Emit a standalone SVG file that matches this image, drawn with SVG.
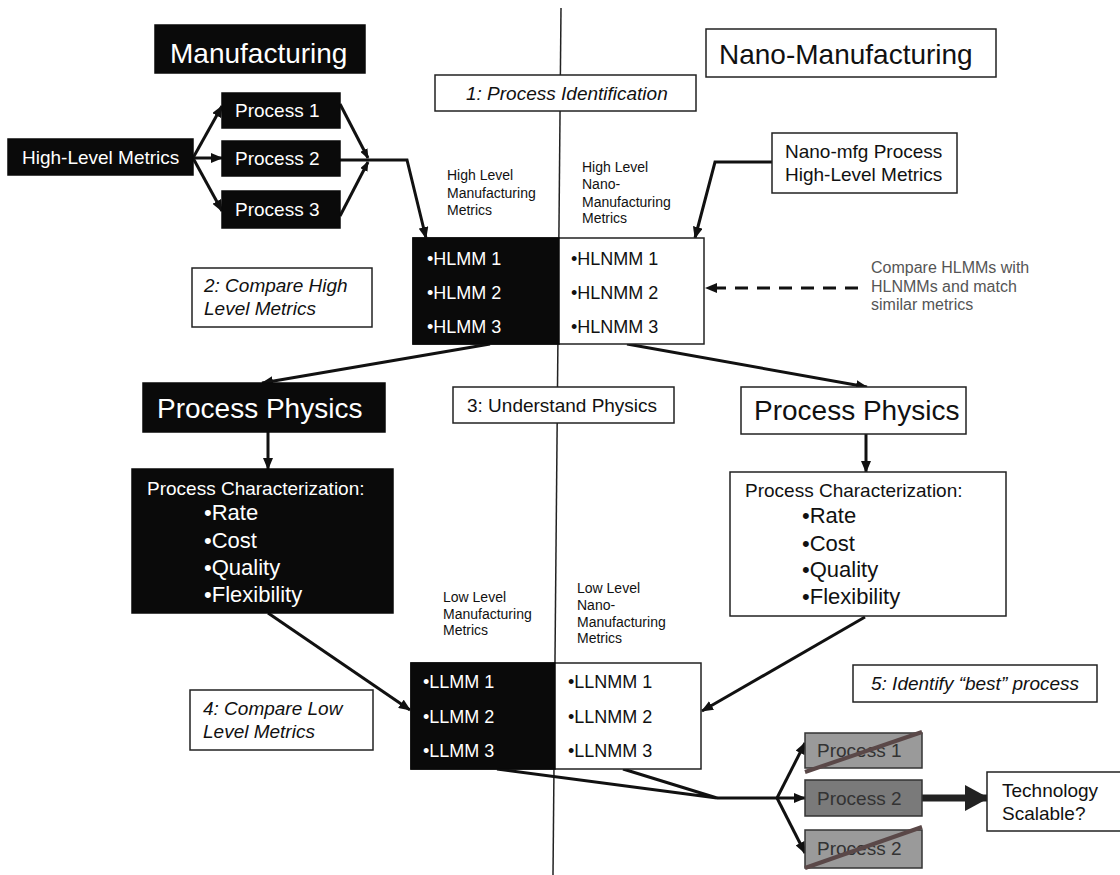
<svg xmlns="http://www.w3.org/2000/svg" width="1120" height="875" viewBox="0 0 1120 875">
<defs>
<style>
text{font-family:"Liberation Sans",Arial,Helvetica,sans-serif;}
.blk{fill:#0a0a0a;stroke:#0a0a0a;stroke-width:1.5;}
.wht{fill:#fff;stroke:#222;stroke-width:1.5;}
.tw{fill:#fff;}
.tb{fill:#111;}
.big{font-size:28px;}
.md{font-size:19px;}
.bul{font-size:18px;}
.lst{font-size:22px;}
.sm{font-size:14px;}
.it{font-style:italic;}
.ln{fill:none;stroke:#111;stroke-width:3;}
.gp{fill:#9a9a9a;stroke:#333;stroke-width:1.5;}
.gd{fill:#7a7a7a;stroke:#333;stroke-width:1.5;}
.tg{fill:#333;}
.x{stroke:#5a4848;stroke-width:4;}
</style>
<marker id="ah" markerWidth="12" markerHeight="10" refX="11" refY="5" orient="auto" markerUnits="userSpaceOnUse"><path d="M0,0 L12,5 L0,10 z" fill="#111"/></marker>
<marker id="ahs" markerWidth="10" markerHeight="8" refX="9" refY="4" orient="auto" markerUnits="userSpaceOnUse"><path d="M0,0 L10,4 L0,8 z" fill="#111"/></marker>
<marker id="ahb" markerWidth="24" markerHeight="26" refX="23" refY="13" orient="auto" markerUnits="userSpaceOnUse"><path d="M0,0 L24,13 L0,26 z" fill="#222"/></marker>
</defs>

<line x1="561" y1="8" x2="553" y2="875" stroke="#222" stroke-width="1.5"/>

<g id="connectors">
<path class="ln" d="M193,158 L222,106" marker-end="url(#ah)"/>
<path class="ln" d="M193,158 L222,158" marker-end="url(#ah)"/>
<path class="ln" d="M193,158 L222,211" marker-end="url(#ah)"/>
<path class="ln" d="M340,104 L368,158" marker-end="url(#ahs)"/>
<path class="ln" d="M340,216 L368,162" marker-end="url(#ahs)"/>
<path class="ln" d="M340,160 L407,160 L426,238" marker-end="url(#ah)"/>
<path class="ln" d="M772,162 L715,162 L695,238" marker-end="url(#ah)"/>
<path d="M858,288 L706,288" fill="none" stroke="#111" stroke-width="3" stroke-dasharray="13,9" marker-end="url(#ah)"/>
<path class="ln" d="M490,344 L262,383" marker-end="url(#ah)"/>
<path class="ln" d="M627,344 L867,387" marker-end="url(#ah)"/>
<path class="ln" d="M268,432 L268,469" marker-end="url(#ah)"/>
<path class="ln" d="M866,434 L866,472" marker-end="url(#ah)"/>
<path class="ln" d="M268,613 L410,710" marker-end="url(#ah)"/>
<path class="ln" d="M865,617 L702,711" marker-end="url(#ah)"/>
<path class="ln" d="M497,769 L717,798 L623,769"/>
<path class="ln" d="M717,798 L777,798"/>
<path class="ln" d="M777,798 L805,743" marker-end="url(#ah)"/>
<path class="ln" d="M777,798 L805,798" marker-end="url(#ah)"/>
<path class="ln" d="M777,798 L805,853" marker-end="url(#ah)"/>
<path d="M922,798 L988,798" fill="none" stroke="#222" stroke-width="7" marker-end="url(#ahb)"/>
</g>

<g id="manufacturing">
<rect class="blk" x="155" y="25" width="210" height="48"/>
<text class="tw big" x="170" y="63">Manufacturing</text>
</g>
<g id="nano-manufacturing">
<rect class="wht" x="706" y="29" width="290" height="48"/>
<text class="tb big" x="719" y="64">Nano-Manufacturing</text>
</g>
<g id="step1">
<rect class="wht" x="435" y="75" width="261" height="36"/>
<text class="tb md it" x="466" y="100">1: Process Identification</text>
</g>
<g id="high-level-metrics">
<rect class="blk" x="8" y="139" width="185" height="36"/>
<text class="tw md" x="22" y="164">High-Level Metrics</text>
</g>
<g id="process1">
<rect class="blk" x="222" y="93" width="118" height="35"/>
<text class="tw md" x="235" y="117">Process 1</text>
</g>
<g id="process2">
<rect class="blk" x="222" y="141" width="118" height="35"/>
<text class="tw md" x="235" y="165">Process 2</text>
</g>
<g id="process3">
<rect class="blk" x="222" y="191" width="118" height="37"/>
<text class="tw md" x="235" y="216">Process 3</text>
</g>
<g id="nano-mfg-metrics">
<rect class="wht" x="772" y="133" width="185" height="60"/>
<text class="tb md" x="785" y="158">Nano-mfg Process</text>
<text class="tb md" x="785" y="181">High-Level Metrics</text>
</g>
<g id="hl-labels">
<text class="tb sm" x="447" y="180">High Level</text>
<text class="tb sm" x="447" y="198">Manufacturing</text>
<text class="tb sm" x="447" y="215">Metrics</text>
<text class="tb sm" x="582" y="172">High Level</text>
<text class="tb sm" x="582" y="189">Nano-</text>
<text class="tb sm" x="582" y="207">Manufacturing</text>
<text class="tb sm" x="582" y="223">Metrics</text>
</g>
<g id="hl-table">
<rect class="wht" x="413" y="238" width="291" height="106"/>
<rect class="blk" x="413" y="238" width="146" height="106"/>
<text class="tw bul" x="427" y="265">•HLMM 1</text>
<text class="tw bul" x="427" y="299">•HLMM 2</text>
<text class="tw bul" x="427" y="333">•HLMM 3</text>
<text class="tb bul" x="571" y="265">•HLNMM 1</text>
<text class="tb bul" x="571" y="299">•HLNMM 2</text>
<text class="tb bul" x="571" y="333">•HLNMM 3</text>
</g>
<g id="step2">
<rect class="wht" x="192" y="268" width="180" height="59"/>
<text class="tb md it" x="204" y="292">2: Compare High</text>
<text class="tb md it" x="204" y="315">Level Metrics</text>
</g>
<g id="compare-note">
<text font-size="16" fill="#555" x="871" y="273">Compare HLMMs with</text>
<text font-size="16" fill="#555" x="871" y="292">HLNMMs and match</text>
<text font-size="16" fill="#555" x="871" y="310">similar metrics</text>
</g>
<g id="physics-left">
<rect class="blk" x="143" y="383" width="242" height="49"/>
<text class="tw big" x="157" y="418">Process Physics</text>
</g>
<g id="step3">
<rect class="wht" x="453" y="387" width="221" height="36"/>
<text class="tb md" x="467" y="412">3: Understand Physics</text>
</g>
<g id="physics-right">
<rect class="wht" x="741" y="387" width="225" height="47"/>
<text class="tb big" x="754" y="420">Process Physics</text>
</g>
<g id="char-left">
<rect class="blk" x="132" y="469" width="261" height="144"/>
<text class="tw md" x="147" y="495">Process Characterization:</text>
<text class="tw lst" x="204" y="520">•Rate</text>
<text class="tw lst" x="204" y="548">•Cost</text>
<text class="tw lst" x="204" y="575">•Quality</text>
<text class="tw lst" x="204" y="602">•Flexibility</text>
</g>
<g id="char-right">
<rect class="wht" x="730" y="472" width="276" height="144"/>
<text class="tb md" x="745" y="497">Process Characterization:</text>
<text class="tb lst" x="802" y="523">•Rate</text>
<text class="tb lst" x="802" y="551">•Cost</text>
<text class="tb lst" x="802" y="577">•Quality</text>
<text class="tb lst" x="802" y="604">•Flexibility</text>
</g>
<g id="ll-labels">
<text class="tb sm" x="443" y="602">Low Level</text>
<text class="tb sm" x="443" y="619">Manufacturing</text>
<text class="tb sm" x="443" y="635">Metrics</text>
<text class="tb sm" x="577" y="593">Low Level</text>
<text class="tb sm" x="577" y="610">Nano-</text>
<text class="tb sm" x="577" y="627">Manufacturing</text>
<text class="tb sm" x="577" y="643">Metrics</text>
</g>
<g id="ll-table">
<rect class="wht" x="411" y="663" width="290" height="106"/>
<rect class="blk" x="411" y="663" width="144" height="106"/>
<text class="tw bul" x="423" y="688">•LLMM 1</text>
<text class="tw bul" x="423" y="723">•LLMM 2</text>
<text class="tw bul" x="423" y="757">•LLMM 3</text>
<text class="tb bul" x="568" y="688">•LLNMM 1</text>
<text class="tb bul" x="568" y="723">•LLNMM 2</text>
<text class="tb bul" x="568" y="757">•LLNMM 3</text>
</g>
<g id="step4">
<rect class="wht" x="190" y="690" width="183" height="60"/>
<text class="tb md it" x="203" y="715">4: Compare Low</text>
<text class="tb md it" x="203" y="738">Level Metrics</text>
</g>
<g id="step5">
<rect class="wht" x="853" y="665" width="244" height="37"/>
<text class="tb md it" x="871" y="690">5: Identify “best” process</text>
</g>
<g id="candidate1">
<rect class="gp" x="805" y="733" width="117" height="35"/>
<text class="tg md" x="817" y="757">Process 1</text>
<line class="x" x1="805" y1="772" x2="922" y2="732"/>
</g>
<g id="candidate2">
<rect class="gd" x="805" y="780" width="117" height="36"/>
<text class="tg md" x="817" y="805">Process 2</text>
</g>
<g id="candidate3">
<rect class="gp" x="805" y="830" width="117" height="38"/>
<text class="tg md" x="817" y="855">Process 2</text>
<line class="x" x1="805" y1="868" x2="922" y2="827"/>
</g>
<g id="technology-scalable">
<rect class="wht" x="987" y="772" width="140" height="59"/>
<text class="tb md" x="1002" y="797">Technology</text>
<text class="tb md" x="1002" y="820">Scalable?</text>
</g>
</svg>
